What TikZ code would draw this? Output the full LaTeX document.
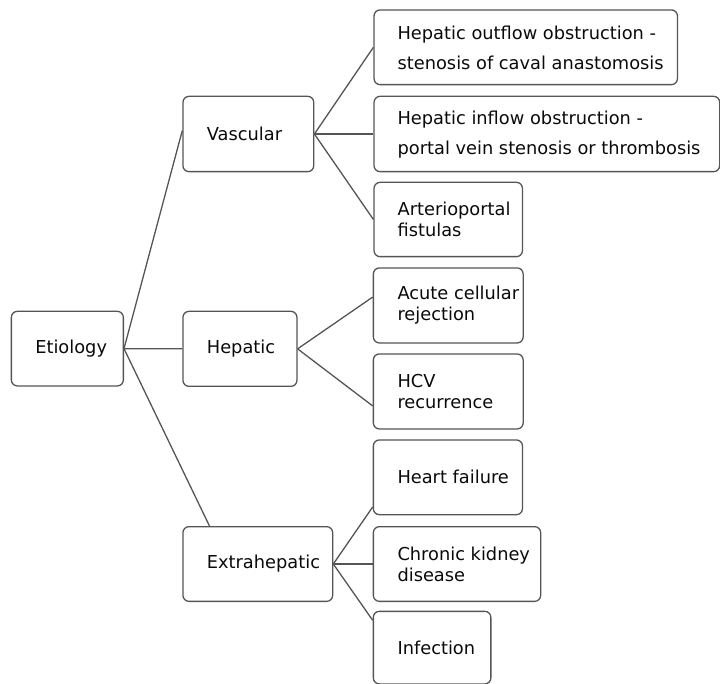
\documentclass[tikz,border=0pt]{standalone}
\usepackage{fontspec}
\setmainfont{DejaVu Sans}
\usetikzlibrary{calc}
\definecolor{edgegray}{RGB}{85,85,85}
\definecolor{inkcol}{RGB}{10,10,10}
\begin{document}
\begin{tikzpicture}[x=1pt,y=-1pt,
  boxnode/.style={draw=edgegray,line width=1.3pt,rounded corners=6pt,anchor=north west,inner sep=0pt},
  txtnode/.style={anchor=west,inner sep=0pt,align=left,text=inkcol,font=\fontsize{17.8}{21}\selectfont},
  widetxt/.style={font=\fontsize{17.8}{30}\selectfont},
  conn/.style={draw=edgegray,line width=1.3pt}]
\useasboundingbox (0,0) rectangle (720,684);
% boxes
\node[boxnode,minimum width=112pt,minimum height=74.6pt] (E) at (10.7,310.7) {};
\node[boxnode,minimum width=130.8pt,minimum height=75.3pt] (V) at (182.3,95.7) {};
\node[boxnode,minimum width=114pt,minimum height=75pt] (H) at (182.3,310.7) {};
\node[boxnode,minimum width=149.7pt,minimum height=74.7pt] (X) at (182.3,526) {};
\node[boxnode,minimum width=303.4pt,minimum height=74.7pt] (V1) at (373.4,9.3) {};
\node[boxnode,minimum width=345.6pt,minimum height=75.3pt] (V2) at (373.4,95.7) {};
\node[boxnode,minimum width=148.4pt,minimum height=74.3pt] (V3) at (373.4,181.7) {};
\node[boxnode,minimum width=149.8pt,minimum height=75pt] (H1) at (372.7,267.3) {};
\node[boxnode,minimum width=149.8pt,minimum height=75pt] (H2) at (372.7,353.3) {};
\node[boxnode,minimum width=149.1pt,minimum height=74.7pt] (X1) at (372.7,439.3) {};
\node[boxnode,minimum width=167.3pt,minimum height=74.7pt] (X2) at (372.7,526) {};
\node[boxnode,minimum width=117.5pt,minimum height=72.6pt] (X3) at (372.7,610.7) {};
% texts
\node[txtnode] (tE) at ($(E.west)+(24.4,0)$) {Etiology};
\node[txtnode] (tV) at ($(V.west)+(24.4,0)$) {Vascular};
\node[txtnode] (tH) at ($(H.west)+(24.4,0)$) {Hepatic};
\node[txtnode] (tX) at ($(X.west)+(24.4,0)$) {Extrahepatic};
\node[txtnode,widetxt] (tV1) at ($(V1.west)+(24,1)$) {Hepatic outflow obstruction -\\stenosis of caval anastomosis};
\node[txtnode,widetxt] (tV2) at ($(V2.west)+(24,1)$) {Hepatic inflow obstruction -\\portal vein stenosis or thrombosis};
\node[txtnode] (tV3) at ($(V3.west)+(24,0)$) {Arterioportal\\fistulas};
\node[txtnode] (tH1) at ($(H1.west)+(24.6,0)$) {Acute cellular\\rejection};
\node[txtnode] (tH2) at ($(H2.west)+(24.6,0)$) {HCV\\recurrence};
\node[txtnode] (tX1) at ($(X1.west)+(24.6,0)$) {Heart failure};
\node[txtnode] (tX2) at ($(X2.west)+(24.6,0)$) {Chronic kidney\\disease};
\node[txtnode] (tX3) at ($(X3.west)+(24.6,0)$) {Infection};
% connectors
\draw[conn] (E.east) -- ($(V.north west)!0.455!(V.south west)$);
\draw[conn] (E.east) -- (H.west);
\draw[conn] (E.east) -- ($(X.north west)!0.18!(X.north east)$);
\draw[conn] (V.east) -- (V1.west);
\draw[conn] (V.east) -- (V2.west);
\draw[conn] (V.east) -- (V3.west);
\draw[conn] (H.east) -- ($(H1.north west)!0.39!(H1.south west)$);
\draw[conn] (H.east) -- ($(H2.north west)!0.69!(H2.south west)$);
\draw[conn] (X.east) -- ($(X1.north west)!0.89!(X1.south west)$);
\draw[conn] (X.east) -- (X2.west);
\draw[conn] (X.east) -- ($(X3.north west)!0.13!(X3.south west)$);
\end{tikzpicture}
\end{document}
